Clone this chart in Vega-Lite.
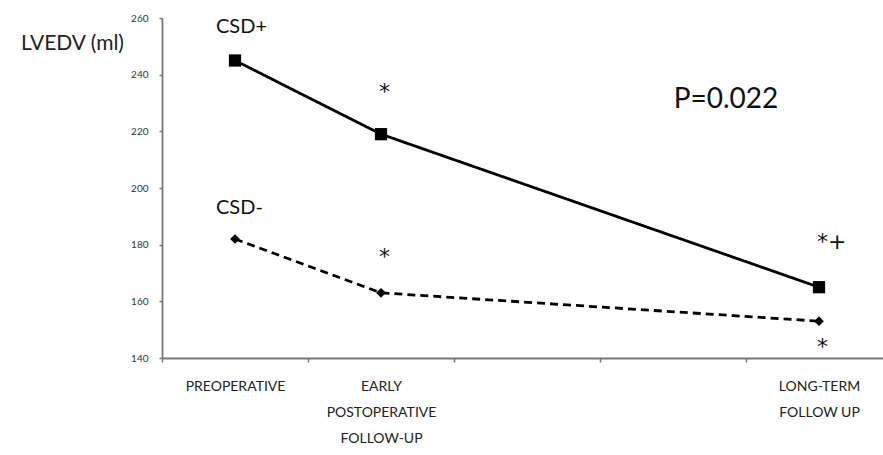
{
  "$schema": "https://vega.github.io/schema/vega-lite/v6.json",
  "autosize": {"type": "none"},
  "padding": {"left": 162, "top": 18, "right": 0, "bottom": 97},
  "width": 721,
  "height": 340,
  "background": "white",
  "config": {
    "view": {"stroke": null},
    "font": "Lato"
  },
  "datasets": {
    "series": [
      {"stage": "PREOPERATIVE", "group": "CSD+", "lvedv": 245},
      {"stage": "EARLY POSTOPERATIVE FOLLOW-UP", "group": "CSD+", "lvedv": 219},
      {"stage": "LONG-TERM FOLLOW UP", "group": "CSD+", "lvedv": 165},
      {"stage": "PREOPERATIVE", "group": "CSD-", "lvedv": 182},
      {"stage": "EARLY POSTOPERATIVE FOLLOW-UP", "group": "CSD-", "lvedv": 163},
      {"stage": "LONG-TERM FOLLOW UP", "group": "CSD-", "lvedv": 153}
    ],
    "groupLabels": [
      {"stage": "PREOPERATIVE", "lvedv": 257, "note": "CSD+"},
      {"stage": "PREOPERATIVE", "lvedv": 193, "note": "CSD-"}
    ],
    "significance": [
      {"stage": "EARLY POSTOPERATIVE FOLLOW-UP", "lvedv": 234, "note": "*"},
      {"stage": "EARLY POSTOPERATIVE FOLLOW-UP", "lvedv": 175.5, "note": "*"},
      {"stage": "LONG-TERM FOLLOW UP", "lvedv": 181, "note": "*+"},
      {"stage": "LONG-TERM FOLLOW UP", "lvedv": 144, "note": "*"}
    ],
    "pValue": [
      {"stage": "LONG-TERM FOLLOW UP", "lvedv": 231, "note": "P=0.022"}
    ]
  },
  "encoding": {
    "x": {
      "field": "stage",
      "type": "nominal",
      "scale": {
        "domain": ["PREOPERATIVE", "EARLY POSTOPERATIVE FOLLOW-UP", " ", "  ", "LONG-TERM FOLLOW UP"],
        "range": [0, 730],
        "paddingInner": 0,
        "paddingOuter": 0
      },
      "axis": {
        "title": null,
        "labelAngle": 0,
        "tickBand": "extent",
        "domainColor": "#777777",
        "domainWidth": 1.8,
        "tickColor": "#777777",
        "tickWidth": 1.5,
        "tickSize": 4,
        "labelFont": "Lato",
        "labelFontSize": 14,
        "labelColor": "#222222",
        "labelPadding": 24,
        "labelLineHeight": 26,
        "labelBaseline": "middle",
        "labelExpr": "datum.value == 'EARLY POSTOPERATIVE FOLLOW-UP' ? ['EARLY', 'POSTOPERATIVE', 'FOLLOW-UP'] : datum.value == 'LONG-TERM FOLLOW UP' ? ['LONG-TERM', 'FOLLOW UP'] : datum.label"
      }
    },
    "y": {
      "field": "lvedv",
      "type": "quantitative",
      "scale": {"domain": [140, 260], "nice": false, "zero": false},
      "axis": {
        "title": "LVEDV (ml)",
        "titleAngle": 0,
        "titleX": -90,
        "titleY": 25,
        "titleAlign": "center",
        "titleBaseline": "middle",
        "titleFont": "Lato",
        "titleFontSize": 21,
        "titleFontWeight": "normal",
        "titleColor": "#222222",
        "values": [140, 160, 180, 200, 220, 240, 260],
        "grid": false,
        "domainColor": "#777777",
        "domainWidth": 1.8,
        "tickColor": "#777777",
        "tickWidth": 1.5,
        "tickSize": 3,
        "labelFont": "Lato",
        "labelFontSize": 10,
        "labelColor": "#333333",
        "labelPadding": 11
      }
    }
  },
  "layer": [
    {
      "data": {"name": "series"},
      "mark": {"type": "line", "color": "black", "strokeWidth": 2.8},
      "encoding": {
        "detail": {"field": "group"},
        "strokeDash": {
          "field": "group",
          "type": "nominal",
          "scale": {"domain": ["CSD+", "CSD-"], "range": [[1, 0], [8, 5]]},
          "legend": null
        }
      }
    },
    {
      "data": {"name": "series"},
      "mark": {"type": "point", "filled": true, "color": "black", "opacity": 1},
      "encoding": {
        "shape": {
          "field": "group",
          "type": "nominal",
          "scale": {"domain": ["CSD+", "CSD-"], "range": ["square", "diamond"]},
          "legend": null
        },
        "size": {
          "field": "group",
          "type": "nominal",
          "scale": {"domain": ["CSD+", "CSD-"], "range": [150, 95]},
          "legend": null
        }
      }
    },
    {
      "data": {"name": "groupLabels"},
      "mark": {"type": "text", "fontSize": 20, "color": "#111111", "baseline": "middle", "align": "left", "dx": -19},
      "encoding": {"text": {"field": "note"}}
    },
    {
      "data": {"name": "significance"},
      "mark": {"type": "text", "font": "DejaVu Sans", "fontSize": 22, "color": "#111111", "baseline": "middle", "align": "left", "dx": -2},
      "encoding": {"text": {"field": "note"}}
    },
    {
      "data": {"name": "pValue"},
      "mark": {"type": "text", "fontSize": 28, "color": "#111111", "baseline": "middle", "align": "center", "dx": -93},
      "encoding": {"text": {"field": "note"}}
    }
  ]
}
